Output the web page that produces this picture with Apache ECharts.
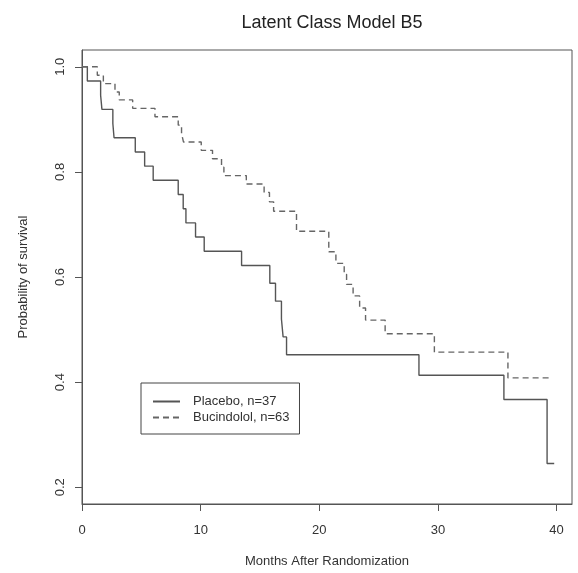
<!DOCTYPE html>
<html>
<head>
<meta charset="utf-8">
<script src="https://cdn.jsdelivr.net/npm/echarts@6/dist/echarts.min.js"></script>
<style>html,body{margin:0;padding:0;background:#fff}#c{width:578px;height:573px}</style>
</head>
<body>
<div id="c"></div>
<script>
// Kaplan-Meier step data: [month, survival after step]
const placeboMonths = [0, 0.45, 1.57, 1.68, 2.6, 2.7, 4.49, 5.28, 6.0, 8.11, 8.53, 8.76, 9.57, 10.3, 13.45, 15.83, 16.31, 16.81, 16.95, 17.24, 28.4, 35.56, 39.2, 39.8];
const placeboSurv   = [1.0, 0.973, 0.946, 0.919, 0.892, 0.865, 0.838, 0.811, 0.784, 0.757, 0.730, 0.703, 0.676, 0.649, 0.622, 0.588, 0.554, 0.520, 0.486, 0.452, 0.413, 0.367, 0.245, 0.245];
const bucindololMonths = [0, 1.29, 1.8, 2.78, 3.14, 4.27, 6.15, 8.11, 8.39, 8.55, 10.05, 11.0, 11.76, 11.96, 13.85, 15.35, 15.8, 16.15, 18.08, 20.8, 21.4, 22.1, 22.3, 22.85, 23.4, 23.9, 25.55, 29.7, 35.9, 39.55];
const bucindololSurv   = [1.0, 0.984, 0.968, 0.952, 0.937, 0.921, 0.905, 0.889, 0.873, 0.857, 0.841, 0.825, 0.809, 0.793, 0.777, 0.761, 0.743, 0.725, 0.687, 0.648, 0.626, 0.605, 0.586, 0.564, 0.541, 0.518, 0.492, 0.457, 0.408, 0.408];
const xTicks = [0, 10, 20, 30, 40];
const yTicks = [0.2, 0.4, 0.6, 0.8, 1.0];
const seriesNames = ['Placebo, n=37', 'Bucindolol, n=63'];

const zip = (a, b) => a.map((v, i) => [v, b[i]]);
const font = 'Liberation Sans, Arial, sans-serif';
const chart = echarts.init(document.getElementById('c'), null, {renderer: 'canvas'});
chart.setOption({
  animation: false,
  backgroundColor: '#fff',
  title: {
    text: 'Latent Class Model B5', left: 327, top: 9, textAlign: 'center',
    textStyle: {fontFamily: font, fontSize: 18, fontWeight: 'normal', color: '#222'}
  },
  grid: {left: 82, right: 6, top: 50, bottom: 65, show: true, borderColor: '#555', borderWidth: 1},
  legend: {
    left: 141, top: 383, orient: 'vertical', itemGap: 3, itemWidth: 27, itemHeight: 14,
    padding: [12, 10, 10, 11], borderColor: '#444', borderWidth: 1,
    itemStyle: {opacity: 0},
    textStyle: {fontFamily: font, fontSize: 13, color: '#333', padding: [0, 0, 0, 8]},
    data: seriesNames
  },
  xAxis: {
    type: 'value', min: 0, max: 41.3,
    name: 'Months After Randomization', nameLocation: 'middle', nameGap: 51,
    nameTextStyle: {fontFamily: font, fontSize: 13, color: '#333'},
    axisLine: {show: true, lineStyle: {color: '#555'}},
    axisTick: {show: true, length: 7, lineStyle: {color: '#555'}, customValues: xTicks},
    axisLabel: {fontFamily: font, fontSize: 13, color: '#333', margin: 20, customValues: xTicks},
    splitLine: {show: false}
  },
  yAxis: {
    type: 'value', min: 0.168, max: 1.032,
    name: 'Probability of survival', nameLocation: 'middle', nameGap: 52, nameRotate: 90,
    nameTextStyle: {fontFamily: font, fontSize: 13, color: '#333'},
    axisLine: {show: true, lineStyle: {color: '#555'}},
    axisTick: {show: true, length: 7, lineStyle: {color: '#555'}, customValues: yTicks},
    axisLabel: {fontFamily: font, fontSize: 13, color: '#333', margin: 15, rotate: 90,
      customValues: yTicks, formatter: v => v.toFixed(1)},
    splitLine: {show: false}
  },
  series: [
    {name: seriesNames[0], type: 'line', step: 'end', symbol: 'none',
     data: zip(placeboMonths, placeboSurv), color: '#555',
     lineStyle: {color: '#555', width: 1.4, type: 'solid'}},
    {name: seriesNames[1], type: 'line', step: 'end', symbol: 'none',
     data: zip(bucindololMonths, bucindololSurv), color: '#666',
     lineStyle: {color: '#666', width: 1.4, type: [6, 4]}}
  ]
});
</script>
</body>
</html>
